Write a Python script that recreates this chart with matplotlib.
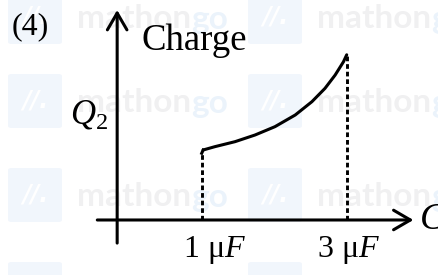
import matplotlib
matplotlib.use("Agg")
import matplotlib.pyplot as plt
from matplotlib.patches import FancyArrowPatch, FancyBboxPatch

plt.rcParams['mathtext.fontset'] = 'custom'
plt.rcParams['mathtext.rm'] = 'Liberation Serif'
plt.rcParams['mathtext.it'] = 'Liberation Serif:italic'
plt.rcParams['font.family'] = ['Liberation Serif', 'DejaVu Serif']

# ---- data ----
cap_ticks = [1, 3]
cap_tick_labels = ["1 μ$F$", "3 μ$F$"]
curve_C = [1.0, 1.02, 1.18, 1.46, 1.735, 2.01, 2.29, 2.52, 2.70, 2.84, 2.955, 3.0]
curve_Q = [0.953, 1.0, 1.047, 1.119, 1.214, 1.333, 1.50, 1.69, 1.88, 2.07, 2.26, 2.36]

W, H = 439, 275
fig = plt.figure(figsize=(W / 100, H / 100), dpi=100)
ax = fig.add_axes([0, 0, 1, 1])
ax.set_zorder(2)
ax.patch.set_alpha(0)
ax.set_xlim(-1.782, 4.273)
ax.set_ylim(-0.786, 3.143)
ax.axis('off')

# ---- watermark (figure pixel coords) ----
def px(x, y):
    return x / W, 1 - y / H

renderer = fig.canvas.get_renderer()
for ry in [17, 101, 195, 289]:
    for cx in [8, 248]:
        fig.patches.append(FancyBboxPatch(px(cx, ry + 27), 54 / W, 54 / H,
                                          boxstyle="round,pad=0,rounding_size=0.008",
                                          transform=fig.transFigure, facecolor="#f1f6fc",
                                          edgecolor="none", zorder=0))
        fig.text(*px(cx + 27, ry), "//.", color="white", fontsize=17, fontweight='bold',
                 family='DejaVu Sans', style='italic', ha='center', va='center', zorder=0.5)
        t = fig.text(*px(cx + 69, ry + 2), "mathon", color="#f0f0f1", fontsize=24,
                     family='Lato', fontweight='bold', ha='left', va='center', zorder=0.5)
        bb = t.get_window_extent(renderer)
        fig.text(bb.x1 / W, 1 - (ry + 2) / H, "go", color="#ebf3fb", fontsize=24,
                 family='Lato', fontweight='bold', ha='left', va='center', zorder=0.5)

lw = 2.2
y_axis_C = -0.166
# axes
ax.add_patch(FancyArrowPatch((y_axis_C, -0.33), (y_axis_C, 3.0),
                             arrowstyle="->,head_length=0.55,head_width=0.32",
                             mutation_scale=22, lw=lw, color='black', zorder=3,
                             shrinkA=0, shrinkB=0))
ax.add_patch(FancyArrowPatch((-0.44, 0), (3.92, 0),
                             arrowstyle="->,head_length=0.55,head_width=0.32",
                             mutation_scale=22, lw=lw, color='black', zorder=3,
                             shrinkA=0, shrinkB=0))

# curve
ax.plot(curve_C[1:], curve_Q[1:], color='black', lw=lw, solid_joinstyle='round',
        solid_capstyle='round', zorder=3)
ax.plot(curve_C[:2], curve_Q[:2], color='black', lw=lw, zorder=3)
# dotted drop lines
for c, q in [(curve_C[0], curve_Q[0]), (curve_C[-1], curve_Q[-1])]:
    ax.plot([c, c], [0, q], color='black', lw=2.1, linestyle=(0, (1.6, 1.0)), zorder=3)

# tick labels
label_offsets = [0.17, 0.02]
for c, lab, off in zip(cap_ticks, cap_tick_labels, label_offsets):
    ax.text(c + off, -0.43, lab, fontsize=23, ha='center', va='center', zorder=4)

ax.text(y_axis_C + 0.34, 2.56, "Charge", fontsize=26.5, ha='left', va='center', zorder=4)
ax.text(y_axis_C - 0.13, 1.50, "$Q_2$", fontsize=25, ha='right', va='center', zorder=4)
ax.text(4.0, 0.0, "$C$", fontsize=27, ha='left', va='center', zorder=4)
fig.text(*px(30, 27), "(4)", fontsize=23, ha='center', va='center', zorder=4)

fig.savefig("out.png", dpi=100)
